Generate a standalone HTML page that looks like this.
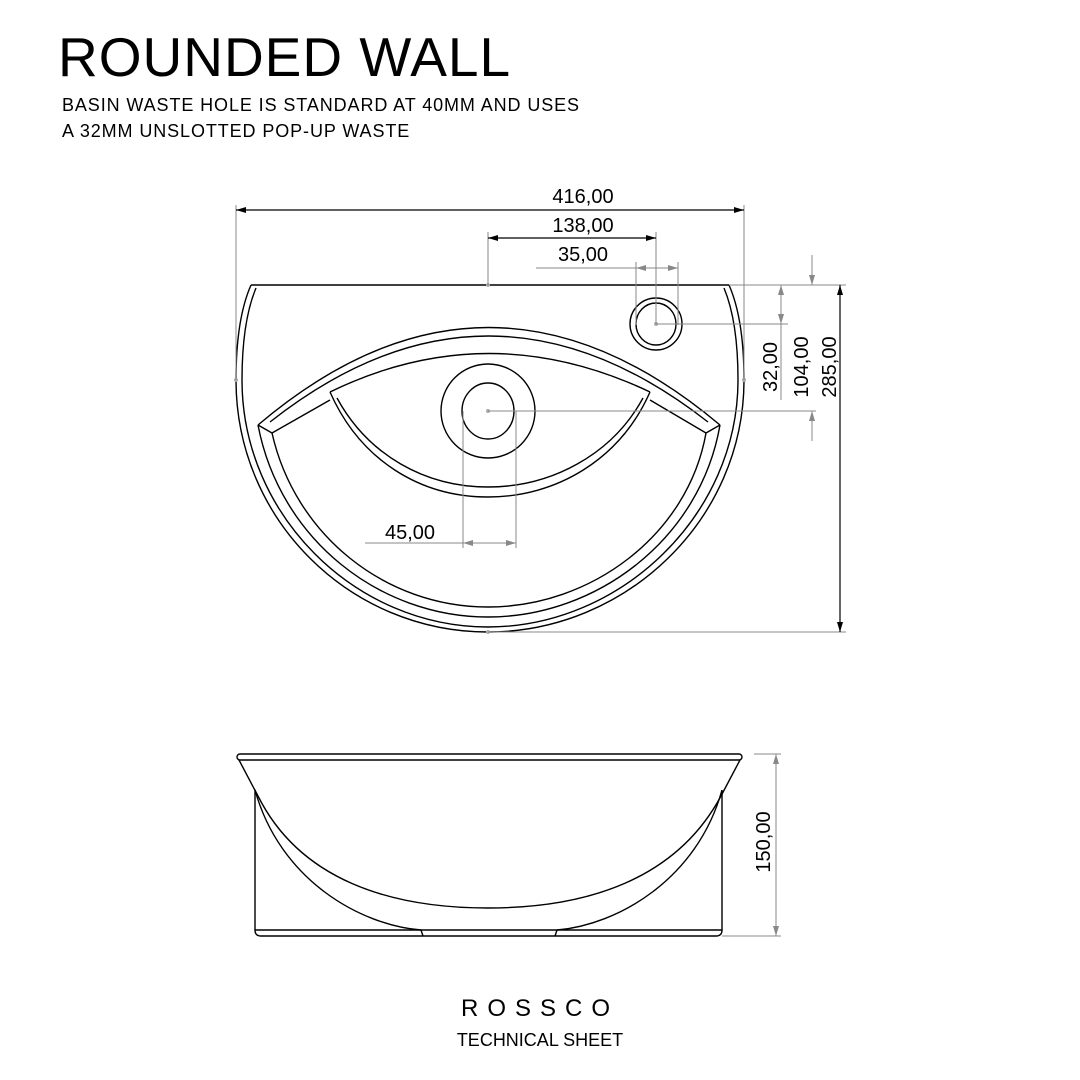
<!DOCTYPE html>
<html><head><meta charset="utf-8"><style>
html,body{margin:0;padding:0;background:#fff;}
svg{display:block;}
text{font-family:"Liberation Sans","DejaVu Sans",sans-serif;}
</style></head><body>
<svg width="1080" height="1080" viewBox="0 0 1080 1080" xmlns="http://www.w3.org/2000/svg">
<defs>
<marker id="ab" viewBox="0 0 10 6" refX="10" refY="3" markerWidth="14" markerHeight="6" markerUnits="userSpaceOnUse" orient="auto-start-reverse"><path d="M0,0 L10,3 L0,6 z" fill="#000"/></marker>
<marker id="ag" viewBox="0 0 10 6" refX="10" refY="3" markerWidth="16" markerHeight="6" markerUnits="userSpaceOnUse" orient="auto-start-reverse"><path d="M0,0 L10,3 L0,6 z" fill="#888"/></marker>
</defs>
<rect width="1080" height="1080" fill="#fff"/>
<text x="58" y="76" font-size="55" letter-spacing="1" fill="#000">ROUNDED WALL</text>
<text x="62" y="111" font-size="18" letter-spacing="0.9" fill="#000">BASIN WASTE HOLE IS STANDARD AT 40MM AND USES</text>
<text x="62" y="137" font-size="18" letter-spacing="0.9" fill="#000">A 32MM UNSLOTTED POP-UP WASTE</text>

<g fill="none" stroke="#000" stroke-width="1.4">
<path d="M251,285 L729,285"/>
<path d="M251,285 C240,310 236,345 236,380 C236,520 350,632 488,632 C626,632 744,520 744,380 C744,345 740,310 729,285"/>
<path d="M256,288 C246,312 242,345 242,380 C242,515 355,627 488,627 C621,627 738,515 738,380 C738,345 734,312 724,288"/>
<path d="M258,425 Q488,230 720,425"/>
<path d="M272,433 L330,400"/><path d="M706,433 L650,400"/>
<path d="M272,433 L258,425"/><path d="M706,433 L720,425"/>
<path d="M270,422 Q488,250 708,422"/>
<path d="M330,392 Q488,315 650,392"/>
<path d="M330,392 C360,460 420,497 488,497 C556,497 620,460 650,392"/>
<path d="M337,398 C368,455 425,487 488,487 C551,487 612,455 643,398"/>
<path d="M258,425 C280,540 380,617 488,617 C596,617 700,540 720,425"/>
<path d="M272,433 C295,535 385,607 488,607 C591,607 688,535 706,433"/>
<circle cx="488" cy="411" r="47"/>
<ellipse cx="488" cy="411" rx="26" ry="28"/>
<circle cx="656" cy="324" r="26"/>
<ellipse cx="656" cy="324" rx="20" ry="21"/>
</g>
<g fill="#aaa"><circle cx="488" cy="411" r="2"/><circle cx="656" cy="324" r="2"/><circle cx="488" cy="285" r="2"/><circle cx="488" cy="632" r="2"/><circle cx="236" cy="380" r="2"/><circle cx="744" cy="380" r="2"/></g>

<g stroke="#888" stroke-width="1" fill="none">
<path d="M236,205 V380 M744,205 V380"/>
<path d="M488,232 V285 M656,232 V324"/>
<path d="M636,262 V325 M678,262 V325"/>
<path d="M729,285 H846 M488,632 H846 M656,324 H788 M488,411 H816"/>
<path d="M463,411 V548 M516,411 V548"/>
<path d="M754,754 H781 M722,936 H781"/>
</g>
<g stroke="#000" stroke-width="1.2" fill="none">
<line x1="236" y1="210" x2="744" y2="210" marker-start="url(#ab)" marker-end="url(#ab)"/>
<line x1="488" y1="238" x2="656" y2="238" marker-start="url(#ab)" marker-end="url(#ab)"/>
<line x1="840" y1="285" x2="840" y2="632" marker-start="url(#ab)" marker-end="url(#ab)"/>
</g>
<g stroke="#888" stroke-width="1" fill="none">
<line x1="536" y1="268" x2="636" y2="268"/>
<line x1="656" y1="268" x2="636" y2="268" marker-end="url(#ag)"/>
<line x1="656" y1="268" x2="678" y2="268" marker-end="url(#ag)"/>
<line x1="781" y1="305" x2="781" y2="285" marker-end="url(#ag)"/>
<line x1="781" y1="305" x2="781" y2="324" marker-end="url(#ag)"/>
<line x1="781" y1="324" x2="781" y2="400"/>
<line x1="812" y1="255" x2="812" y2="285" marker-end="url(#ag)"/>
<line x1="812" y1="441" x2="812" y2="411" marker-end="url(#ag)"/>
<line x1="365" y1="543" x2="463" y2="543"/>
<line x1="490" y1="543" x2="463" y2="543" marker-end="url(#ag)"/>
<line x1="490" y1="543" x2="516" y2="543" marker-end="url(#ag)"/>
<line x1="776" y1="754" x2="776" y2="936" marker-start="url(#ag)" marker-end="url(#ag)"/>
</g>
<g font-size="20" fill="#000" text-anchor="middle">
<text x="583" y="203">416,00</text>
<text x="583" y="232">138,00</text>
<text x="583" y="261">35,00</text>
<text x="410" y="539">45,00</text>
<text transform="translate(777,367) rotate(-90)">32,00</text>
<text transform="translate(808,367) rotate(-90)">104,00</text>
<text transform="translate(836,367) rotate(-90)">285,00</text>
<text transform="translate(770,842) rotate(-90)">150,00</text>
</g>

<g fill="none" stroke="#000" stroke-width="1.4">
<rect x="237" y="754" width="505" height="6" rx="3"/>
<path d="M239,760 L258,796 M740,760 L721,796"/>
<path d="M255,790 V930 M722,790 V930"/>
<path d="M255,930 Q255,936 261,936 H716 Q722,936 722,930 Z"/>
<path d="M255,790 C280,880 360,925 421,930 M722,790 C697,880 617,925 557,930"/>
<path d="M421,930 L423,936 M557,930 L555,936"/>
<path d="M258,796 C300,880 390,908 488,908 C586,908 676,880 721,796"/>
</g>

<text x="540" y="1016" font-size="24" letter-spacing="9" text-anchor="middle" fill="#000">ROSSCO</text>
<text x="540" y="1046" font-size="18" text-anchor="middle" fill="#000">TECHNICAL SHEET</text>
</svg>
</body></html>
